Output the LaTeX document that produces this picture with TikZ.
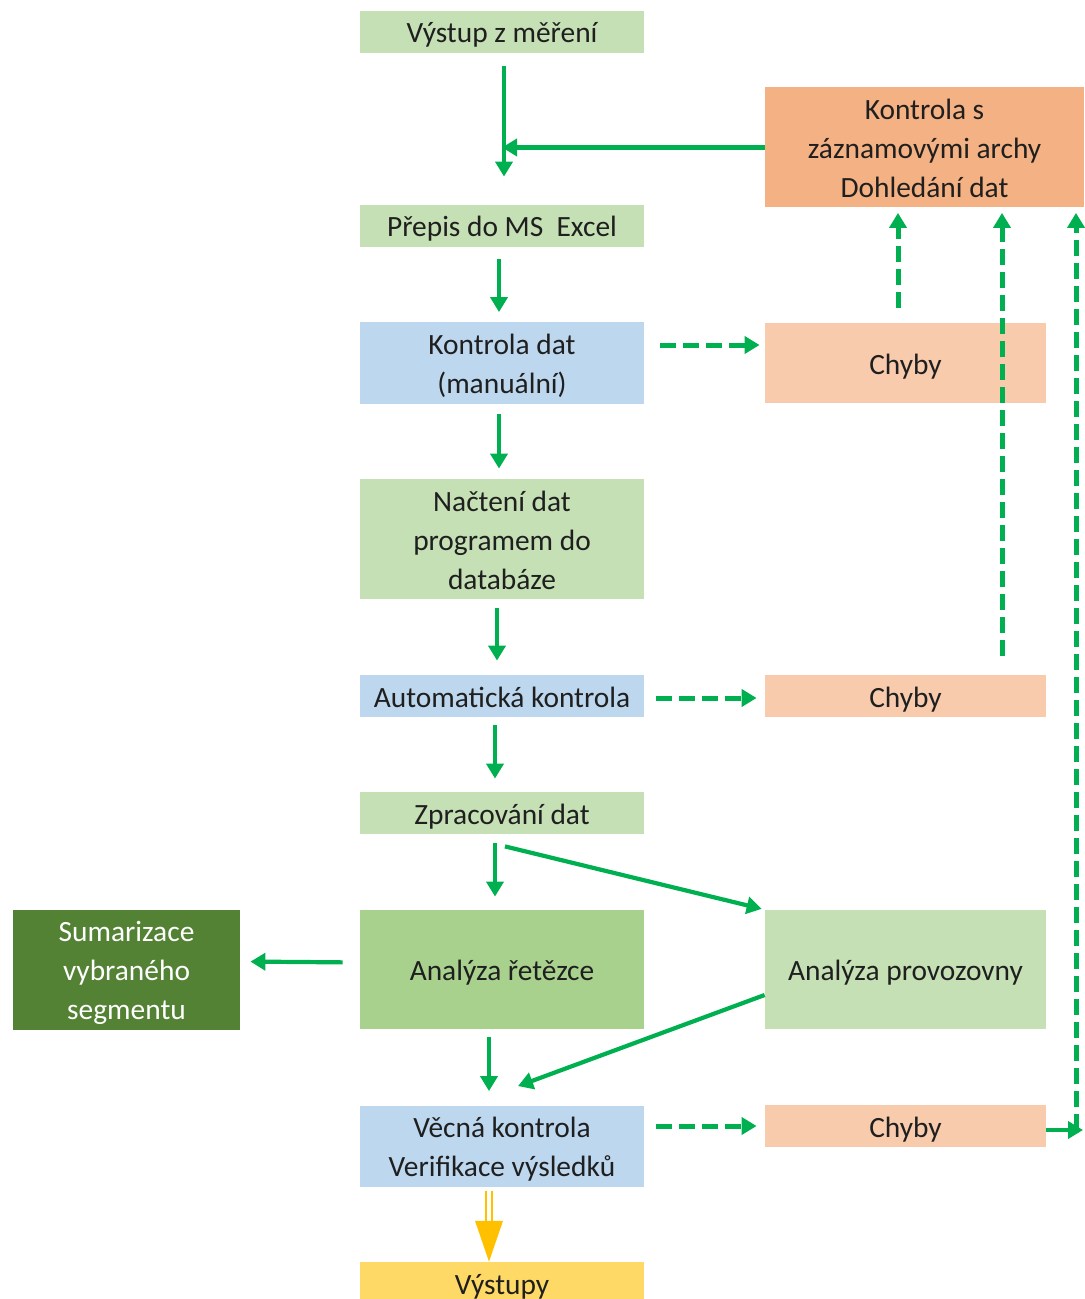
\documentclass[tikz,border=0pt]{standalone}
\usepackage{fontspec}
\setmainfont{Carlito}
\usetikzlibrary{arrows.meta}
\definecolor{gl}{HTML}{C5E0B4}
\definecolor{bl}{HTML}{BDD7EE}
\definecolor{orr}{HTML}{F4B183}
\definecolor{pk}{HTML}{F8CBAD}
\definecolor{gm}{HTML}{A9D18E}
\definecolor{gd}{HTML}{548235}
\definecolor{yl}{HTML}{FFD966}
\definecolor{ar}{HTML}{00B050}
\definecolor{ay}{HTML}{FFC000}
\begin{document}
\begin{tikzpicture}[x=0.5pt,y=-0.5pt,
 box/.style={rectangle, inner sep=0pt, align=flush center, font=\fontsize{14.7}{19.5}\selectfont, text=black!88,
   execute at begin node={\rule{0pt}{16pt}}, execute at end node={\rule[-5pt]{0pt}{5pt}}},
 wbox/.style={box, text width=142pt, minimum width=142pt},
 rbox/.style={box, text width=140.5pt, minimum width=140.5pt},
 arr/.style={draw=ar, line width=2.1pt, -{Triangle[length=7.5pt,width=8.5pt]}},
 darr/.style={arr, line width=2.5pt, dash pattern=on 8pt off 3.5pt},
]
\path[use as bounding box] (0,0) rectangle (1084,1299);
% center column
\node[wbox, fill=gl, minimum height=20pt] (out1) at (502,32) {Výstup z měření};
\node[wbox, fill=gl, minimum height=20pt] (prepis) at (502,226) {Přepis do MS~~Excel};
\node[wbox, fill=bl, minimum height=40pt] (kdat) at (502,363) {Kontrola dat\\(manuální)};
\node[wbox, fill=gl, minimum height=59pt] (nacteni) at (502,539) {Načtení dat\\programem do\\databáze};
\node[wbox, fill=bl, minimum height=20pt] (auto) at (502,696) {Automatická kontrola};
\node[wbox, fill=gl, minimum height=20pt] (zprac) at (502,813) {Zpracování dat};
\node[wbox, fill=gm, minimum height=59.5pt] (anret) at (502,969.5) {Analýza řetězce};
\node[wbox, fill=bl, minimum height=40pt] (vecna) at (502,1146) {Věcná kontrola\\Verifikace výsledků};
\node[wbox, fill=yl, minimum height=20pt] (vystupy) at (502,1283) {Výstupy};
% right column
\node[box, fill=orr, text width=159.5pt, minimum width=159.5pt, minimum height=59.5pt] (archy) at (924.5,147.5) {Kontrola s\\záznamovými archy\\Dohledání dat};
\node[rbox, fill=pk, minimum height=40pt] (chyby1) at (905.5,363) {Chyby};
\node[rbox, fill=pk, minimum height=20pt] (chyby2) at (905.5,696) {Chyby};
\node[rbox, fill=gl, minimum height=59.5pt] (anprov) at (905.5,969.5) {Analýza provozovny};
\node[rbox, fill=pk, minimum height=20pt] (chyby3) at (905.5,1126) {Chyby};
% left
\node[box, fill=gd, text=white, text width=113.5pt, minimum width=113.5pt, minimum height=59.5pt] (sum) at (126.5,969.5) {Sumarizace\\vybraného\\segmentu};
\coordinate (rcorner) at (1076,1130);

% solid arrows
\draw[arr, shorten <=6.5pt, shorten >=14pt] ([xshift=1pt]out1.south) -- ([xshift=1pt]prepis.north);
\draw[arr] (archy.west) -- (archy.west -| out1.south);
\draw[arr, shorten <=6pt, shorten >=5pt] ([xshift=-1.5pt]prepis.south) -- ([xshift=-1.5pt]kdat.north);
\draw[arr, shorten <=5pt, shorten >=5pt] ([xshift=-1.5pt]kdat.south) -- ([xshift=-1.5pt]nacteni.north);
\draw[arr, shorten <=4.5pt, shorten >=7pt] ([xshift=-2.5pt]nacteni.south) -- ([xshift=-2.5pt]auto.north);
\draw[arr, shorten <=4pt, shorten >=6.5pt] ([xshift=-3.5pt]auto.south) -- ([xshift=-3.5pt]zprac.north);
\draw[arr, shorten <=4.5pt, shorten >=6.5pt] ([xshift=-3.5pt]zprac.south) -- ([xshift=-3.5pt]anret.north);
\draw[arr, shorten >=1.5pt] ([xshift=1.5pt,yshift=-6pt]zprac.south) -- (anprov.north west);
\draw[arr, shorten <=8.5pt, shorten >=5pt] ([yshift=3.5pt]anret.west) -- ([yshift=4pt]sum.east);
\draw[arr, shorten <=4pt, shorten >=7pt] ([xshift=-6.5pt]anret.south) -- ([xshift=-6.5pt]vecna.north);
\draw[arr] ([yshift=-12.75pt]anprov.west) -- ([xshift=8pt,yshift=9.5pt]vecna.north);
\draw[arr] ([yshift=-2pt]chyby3.east) -- ([xshift=3.5pt]rcorner);

% dashed arrows
\draw[darr, shorten <=8pt, shorten >=2.5pt] ([yshift=9pt]kdat.east) -- ([yshift=9pt]chyby1.west);
\draw[darr, shorten <=6pt, shorten >=4pt] ([yshift=-1pt]auto.east) -- ([yshift=-1pt]chyby2.west);
\draw[darr, shorten <=6pt, shorten >=4pt] (chyby3.west -| vecna.east) -- (chyby3.west);
\draw[darr, shorten <=7.5pt, shorten >=2.5pt] ([xshift=-3.75pt]chyby1.north) -- ([xshift=-3.75pt]chyby1.north |- archy.south);
\draw[darr, shorten <=9.5pt, shorten >=2.5pt] ([xshift=48.25pt]chyby2.north) -- ([xshift=48.25pt]chyby2.north |- archy.south);
\draw[darr, shorten >=2.5pt] (rcorner) -- (rcorner |- archy.south);

% yellow double arrow
\draw[ay, line width=1.2pt, double=white, double distance=1.6pt, shorten <=2pt]
  ([xshift=-6.5pt]vecna.south) -- ([xshift=-6.5pt,yshift=-18pt]vecna.south);
\fill[ay] ([xshift=-13.5pt,yshift=-17pt]vecna.south) -- ([xshift=0.5pt,yshift=-17pt]vecna.south)
  -- ([xshift=-6.5pt]vystupy.north) ++(0,-7.5pt) -- cycle;
\end{tikzpicture}
\end{document}
